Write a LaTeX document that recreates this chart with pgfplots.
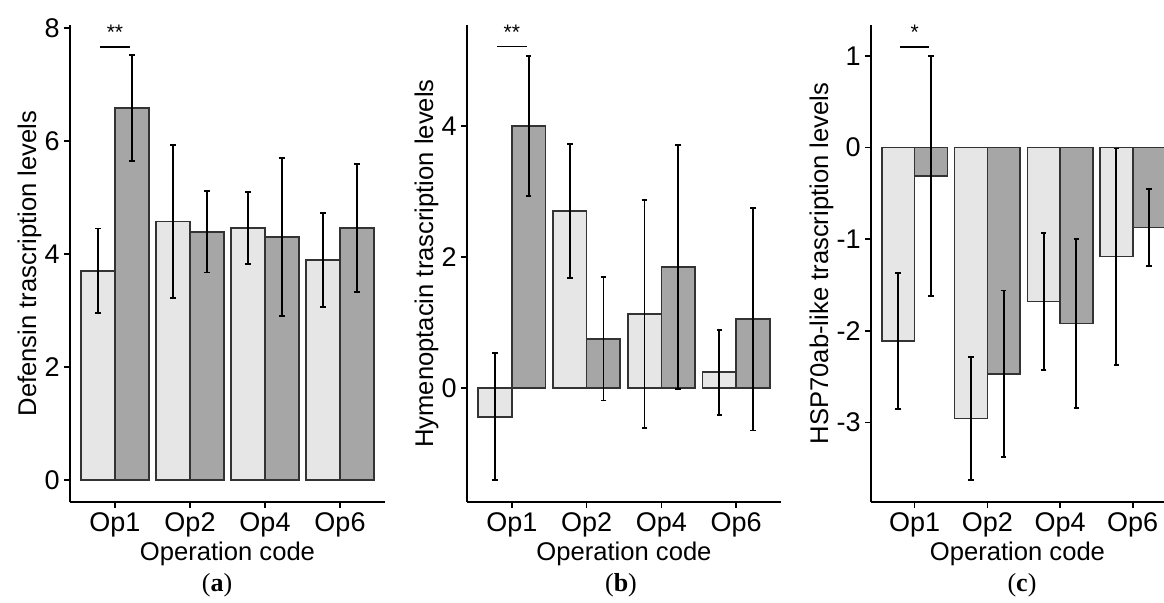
\documentclass[border=0pt]{standalone}
\usepackage{fontspec}
\setmainfont{Liberation Sans}
\newfontfamily\capfont{Liberation Serif}
\usepackage{pgfplots}
\pgfplotsset{compat=1.18}
\definecolor{lightbar}{HTML}{E6E6E6}
\definecolor{darkbar}{HTML}{A6A6A6}
\definecolor{edge}{HTML}{333333}

\pgfplotsset{
  panel/.style={
    scale only axis, height=238.5pt,
    axis x line*=bottom, axis y line*=left,
    axis line style={-, line width=0.8pt, black},
    xmin=0.4, xmax=4.6,
    xtick={1,2,3,4}, xticklabels={Op1,Op2,Op4,Op6},
    tick align=outside, major tick length=3pt,
    tick style={black, line width=0.8pt},
    xticklabel style={font=\fontsize{13.5}{14}\selectfont, inner sep=2pt},
    yticklabel style={font=\fontsize{13.5}{14}\selectfont, inner sep=2pt},
    label style={font=\fontsize{12.8}{13}\selectfont},
    xlabel={Operation code},
    xlabel style={yshift=3pt},
    ylabel style={yshift=-4pt},
    /pgf/number format/assume math mode=true,
  },
  errs/.style={
    error bars/y dir=both, error bars/y explicit,
    error bars/error bar style={black, line width=0.9pt},
    error bars/error mark options={black, line width=0.9pt, mark size=1.4pt, rotate=90}},
  bars/.style={ybar, bar width=0.45, bar shift=0pt, draw=edge, line width=0.8pt, errs},
  sig/.style={black, line width=0.8pt, forget plot},
}

\begin{document}
\begin{tikzpicture}
\useasboundingbox (0,0) rectangle (582pt,301.5pt);

% (a) Defensin
\begin{axis}[panel, at={(35pt,50.5pt)}, anchor=south west, width=157.5pt,
  ymin=-0.39, ymax=8.05, ytick={0,2,4,6,8},
  ylabel={Defensin trascription levels}]
\addplot[bars, fill=lightbar] table[x=x, y=y, y error=e] {
x y e
0.775 3.70 0.75
1.775 4.57 1.35
2.775 4.46 0.64
3.775 3.89 0.83
};
\addplot[bars, fill=darkbar] table[x=x, y=y, y error=e] {
x y e
1.225 6.58 0.94
2.225 4.39 0.72
3.225 4.30 1.40
4.225 4.46 1.13
};
\addplot[sig] coordinates {(0.8,7.66) (1.2,7.66)};
\node[font=\fontsize{10.5}{10}\selectfont] at (axis cs:1,7.92) {**};
\end{axis}

% (b) Hymenoptacin
\begin{axis}[panel, at={(233.5pt,50.5pt)}, anchor=south west, width=157pt,
  ymin=-1.74, ymax=5.54, ytick={0,2,4},
  ylabel={Hymenoptacin trascription levels}]
\addplot[bars, fill=lightbar] table[x=x, y=y, y error=e] {
x y e
0.775 -0.44 0.97
1.775 2.70 1.02
2.775 1.13 1.74
3.775 0.24 0.65
};
\addplot[bars, fill=darkbar] table[x=x, y=y, y error=e] {
x y e
1.225 4.00 1.07
2.225 0.75 0.94
3.225 1.85 1.86
4.225 1.05 1.70
};
\addplot[sig] coordinates {(0.8,5.21) (1.2,5.21)};
\node[font=\fontsize{10.5}{10}\selectfont] at (axis cs:1,5.43) {**};
\end{axis}

% (c) HSP70ab-like
\begin{axis}[panel, at={(435.5pt,50.5pt)}, anchor=south west, width=146.5pt,
  xmax=4.43,
  ymin=-3.87, ymax=1.34, ytick={-3,-2,-1,0,1}, yticklabels={-3,-2,-1,0,1},
  ylabel={HSP70ab-like trascription levels}]
\addplot[bars, fill=lightbar] table[x=x, y=y, y error=e] {
x y e
0.775 -2.11 0.74
1.775 -2.96 0.67
2.775 -1.68 0.75
3.775 -1.19 1.18
};
\addplot[bars, fill=darkbar] table[x=x, y=y, y error=e] {
x y e
1.225 -0.31 1.31
2.225 -2.47 0.91
3.225 -1.92 0.92
4.225 -0.87 0.42
};
\addplot[sig] coordinates {(0.8,1.10) (1.2,1.10)};
\node[font=\fontsize{10.5}{10}\selectfont] at (axis cs:1,1.26) {*};
\end{axis}

\node[font=\capfont\fontsize{13}{14}\selectfont] at (108.5pt,9pt) {(\textbf{a})};
\node[font=\capfont\fontsize{13}{14}\selectfont] at (310.5pt,9pt) {(\textbf{b})};
\node[font=\capfont\fontsize{13}{14}\selectfont] at (511pt,9pt) {(\textbf{c})};
\end{tikzpicture}
\end{document}
